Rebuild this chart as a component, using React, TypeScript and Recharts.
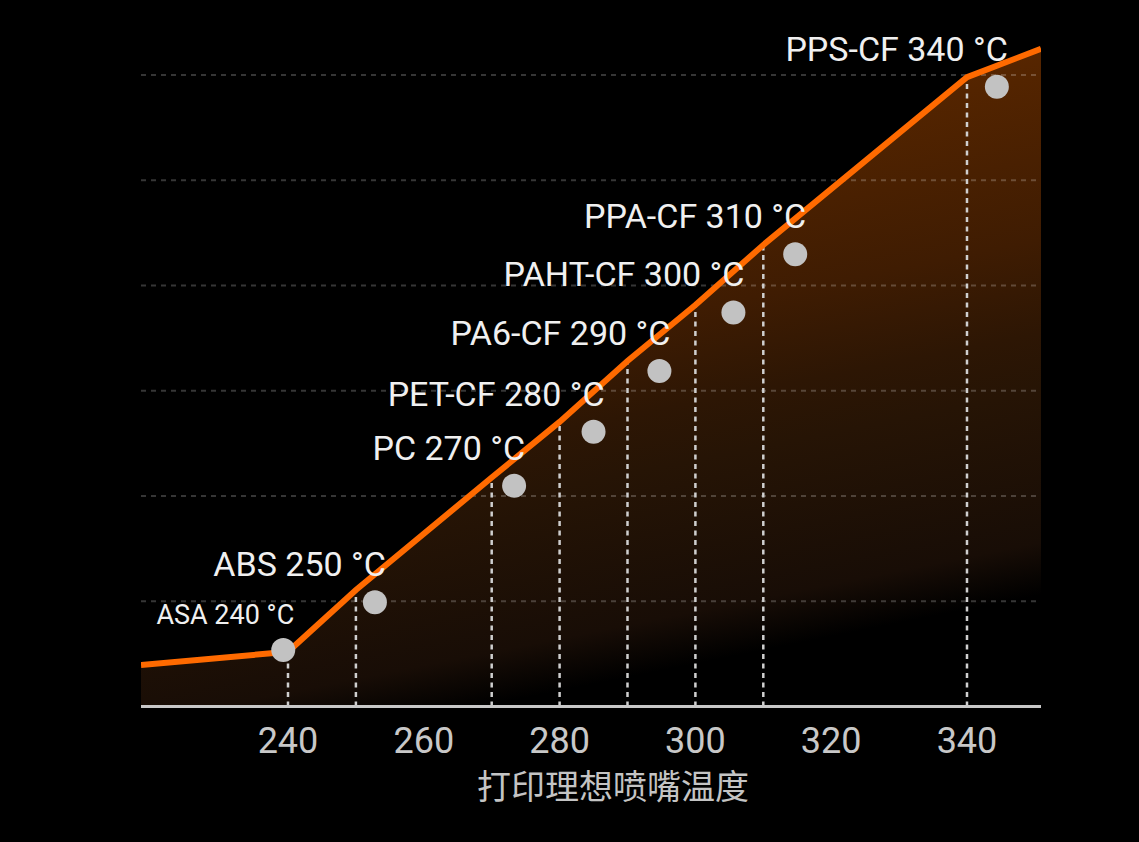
import React from 'react';
import { ComposedChart, Area, Line, Scatter, XAxis, YAxis, ReferenceLine } from 'recharts';

// Orange curve (x = nozzle temperature °C, y = relative level)
const lineTemps = [218.35, 240, 250, 270, 280, 290, 300, 310, 340, 350.9];
const lineLevels = [39.4, 52, 110.7, 217.6, 270.4, 328.3, 381.5, 438.6, 598, 625];

// Materials
const materials = ['ASA', 'ABS', 'PC', 'PET-CF', 'PA6-CF', 'PAHT-CF', 'PPA-CF', 'PPS-CF'];
const nozzleTemps = [240, 250, 270, 280, 290, 300, 310, 340];
const dotTemps = [239.3, 252.8, 273.3, 285.0, 294.7, 305.6, 314.7, 344.4];
const dotLevels = [53.7, 99, 209.8, 261, 318.8, 374.5, 429.7, 589];

// Axes
const xTicks = [240, 260, 280, 300, 320, 340];
const yGrid = [100, 200, 300, 400, 500, 600];
const xTitle = '打印理想喷嘴温度';

const lineData = lineTemps.map((x, i) => ({ x, y: lineLevels[i] }));
const dotData = dotTemps.map((x, i) => ({
  x,
  y: dotLevels[i],
  name: materials[i],
  label: `${materials[i]} ${nozzleTemps[i]} °C`,
}));
const levelAt = (t: number) => lineLevels[lineTemps.indexOf(t)];

const DotShape = (props: any) => {
  const { cx, cy, payload } = props;
  const small = materials.indexOf(payload.name) === 0;
  return (
    <g>
      <circle cx={cx} cy={cy} r={12} fill="#c2c2c2" />
      <text
        x={cx + 11}
        y={cy - 26}
        textAnchor="end"
        fill="#f0f0f0"
        fontSize={small ? 27 : 34}
        fontFamily="Roboto, 'Noto Sans', sans-serif"
      >
        {payload.label}
      </text>
    </g>
  );
};

const TitleLabel = (props: any) => {
  const { viewBox } = props;
  const { x, y, width } = viewBox;
  return (
    <text
      x={x + width / 2 + 22}
      y={y + 78}
      textAnchor="middle"
      dominantBaseline="central"
      fill="#c4c4c4"
      fontSize={34}
      fontFamily="'Noto Sans CJK SC', sans-serif"
    >
      {xTitle}
    </text>
  );
};

export default function App() {
  return (
    <div style={{ position: 'absolute', left: 0, top: 0, width: 1139, height: 842, background: '#000' }}>
      <ComposedChart
        width={1139}
        height={842}
        data={lineData}
        margin={{ top: 33, right: 98, bottom: 55.5, left: 141 }}
      >
        <defs>
          <linearGradient id="heatFill" x1="0.9" y1="0" x2="1.1245" y2="0.8225">
            <stop offset="0" stopColor="#5a2700" />
            <stop offset="0.08" stopColor="#532400" />
            <stop offset="0.36" stopColor="#3f1c02" />
            <stop offset="0.52" stopColor="#2d1604" />
            <stop offset="0.62" stopColor="#261405" />
            <stop offset="0.88" stopColor="#180d06" />
            <stop offset="0.97" stopColor="#000000" />
            <stop offset="1" stopColor="#000000" />
          </linearGradient>
        </defs>
        <XAxis
          dataKey="x"
          type="number"
          domain={[218.35, 350.9]}
          allowDataOverflow
          ticks={xTicks}
          tickLine={false}
          tickSize={0}
          tickMargin={21}
          height={80}
          axisLine={{ stroke: '#c8c8c8', strokeWidth: 3 }}
          tick={{ fill: '#c8c8c8', fontSize: 36, fontFamily: 'Roboto, sans-serif' }}
          label={<TitleLabel />}
        />
        <YAxis dataKey="y" type="number" domain={[0, 640]} allowDataOverflow hide />
        <Area
          dataKey="y"
          type="linear"
          stroke="none"
          fill="url(#heatFill)"
          fillOpacity={1}
          isAnimationActive={false}
          dot={false}
          activeDot={false}
        />
        {yGrid.map((v) => (
          <ReferenceLine
            key={'g' + v}
            y={v}
            stroke="rgba(255,255,255,0.21)"
            strokeWidth={2}
            strokeDasharray="5 5"
          />
        ))}
        {nozzleTemps.map((t) => (
          <ReferenceLine
            key={'v' + t}
            segment={[
              { x: t, y: 0 },
              { x: t, y: levelAt(t) },
            ]}
            stroke="#cfcfcf"
            strokeWidth={2.5}
            strokeDasharray="5 4.5"
          />
        ))}
        <Line
          dataKey="y"
          type="linear"
          stroke="#ff6a00"
          strokeWidth={6}
          dot={false}
          activeDot={false}
          isAnimationActive={false}
        />
        <Scatter data={dotData} dataKey="y" shape={<DotShape />} isAnimationActive={false} />
      </ComposedChart>
    </div>
  );
}
